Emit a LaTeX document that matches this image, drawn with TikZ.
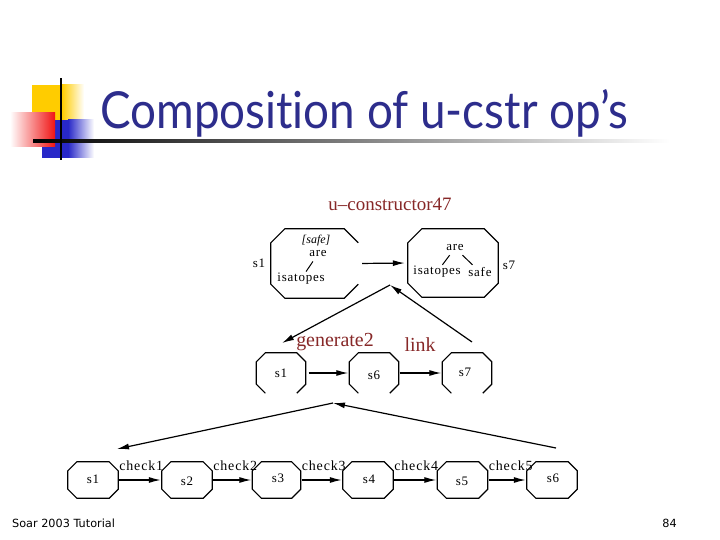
\documentclass[tikz,border=0pt]{standalone}
\usepackage{fontspec}
\setmainfont{Liberation Serif}
\newfontfamily\dfont[LetterSpace=6]{Liberation Serif}
\newfontfamily\titlefont[Ligatures={NoCommon,NoRequired,NoContextual}]{Lato}
\newfontfamily\footfont{DejaVu Sans}
\usetikzlibrary{arrows.meta,calc}
\definecolor{titleblue}{RGB}{45,45,140}
\definecolor{opred}{RGB}{135,40,40}
\definecolor{logoyellow}{RGB}{255,204,0}
\definecolor{logoblue}{RGB}{40,40,200}
\definecolor{logored}{RGB}{240,20,20}

% octagon outlines drawn from the anchors of a named box
\newcommand\octfull[2]{\draw[octline] ($(#1.north west)+(#2,0)$) -- ($(#1.north east)+(-#2,0)$) -- ($(#1.north east)+(0,#2)$) -- ($(#1.south east)+(0,-#2)$) -- ($(#1.south east)+(-#2,0)$) -- ($(#1.south west)+(#2,0)$) -- ($(#1.south west)+(0,-#2)$) -- ($(#1.north west)+(0,#2)$) -- cycle;}
\newcommand\octopenbottom[2]{\draw[octline] ($(#1.south east)+(-#2,0)$) -- ($(#1.south east)+(0,-#2)$) -- ($(#1.north east)+(0,#2)$) -- ($(#1.north east)+(-#2,0)$) -- ($(#1.north west)+(#2,0)$) -- ($(#1.north west)+(0,#2)$) -- ($(#1.south west)+(0,-#2)$) -- ($(#1.south west)+(#2,0)$);}
\newcommand\octopenright[2]{\draw[octline] ($(#1.south east)+(0,-#2)$) -- ($(#1.south east)+(-#2,0)$) -- ($(#1.south west)+(#2,0)$) -- ($(#1.south west)+(0,-#2)$) -- ($(#1.north west)+(0,#2)$) -- ($(#1.north west)+(#2,0)$) -- ($(#1.north east)+(-#2,0)$) -- ($(#1.north east)+(0,#2)$);}

\begin{document}
\begin{tikzpicture}[x=1bp,y=-1bp,
  octbox/.style={draw=none,inner sep=0pt,minimum width=#1},
  octline/.style={line width=1.2bp,black},
  arr/.style={line width=1.2bp,-{Latex[length=12bp,width=6bp]}},
  lbl/.style={font=\dfont\fontsize{13}{13}\selectfont,inner sep=0pt},
  chk/.style={font=\dfont\fontsize{14}{14}\selectfont,inner sep=0pt,anchor=base west},
  optitle/.style={font=\fontsize{20}{20}\selectfont,text=opred,inner sep=0pt},
  foot/.style={font=\footfont\fontsize{11.3}{12}\selectfont,inner sep=0pt}]
\useasboundingbox[fill=white] (0,0) rectangle (720,540);

% ---- logo ----
\fill[logoyellow] (32,85) rectangle (62,120);
\shade[left color=logoyellow,right color=white] (62,85) rectangle (84,120);
\fill[logoblue] (42,120) rectangle (68,158);
\shade[left color=logoblue,right color=white] (68,120) rectangle (94,158);
\shade[left color=white,right color=logored] (10,113) rectangle (55,147);
\shade[left color=black,right color=white] (33,140) rectangle (670,142.5);
\fill[black] (59.8,78) rectangle (62.3,160);

% ---- title ----
\node[anchor=base west,inner sep=0pt,text=titleblue] (title) at (100,129)
  {\resizebox{528bp}{39bp}{\titlefont Composition of u-cstr op’s}};

% ---- top level ----
\node[optitle,font=\fontsize{19}{19}\selectfont] (uc) at (390,204) {u–constructor47};
\node[octbox=87bp,minimum height=69bp] (T1) at (314.5,263.5) {};
\node[octbox=90bp,minimum height=68bp] (T2) at (453,263) {};
\octopenright{T1}{14}
\octfull{T2}{14}
\node[lbl] (s1top) at (259,263) {s1};
\node[lbl] (s7top) at (509,265) {s7};
\node[lbl,font=\itshape\fontsize{12}{12}\selectfont] (T1safe) at (316,241) {[safe]};
\node[lbl] (T1are) at (318,254) {are};
\node[lbl] (T1isa) at (301,279) {isatopes};
\draw[line width=1bp] ($(T1are)!0.3!(T1isa)$) -- ($(T1isa)!0.3!(T1are)$);
\node[lbl] (T2are) at (455,248) {are};
\node[lbl] (T2isa) at (437,272) {isatopes};
\node[lbl] (T2safe) at (480,272) {safe};
\draw[line width=1bp] ($(T2are)!0.3!(T2isa)$) -- ($(T2isa)!0.3!(T2are)$);
\draw[line width=1bp] ($(T2are)!0.3!(T2safe)$) -- ($(T2safe)!0.3!(T2are)$);
\draw[arr,shorten <=4bp,shorten >=3bp] (T1.east) -- (T2.west);

\coordinate (apx1) at (390,285);
\coordinate (gend) at (282,343);
\coordinate (lstart) at (472,342);
\draw[arr] (apx1) -- (gend);
\draw[arr] (lstart) -- (apx1);
\node[optitle] (gen) at (335,342) {generate2};
\node[optitle] (link) at (420,345) {link};

% ---- middle level ----
\node[octbox=49bp,minimum height=40bp] (M1) at (281,373) {};
\node[octbox=49bp,minimum height=40bp] (M2) at (374,373) {};
\node[octbox=49bp,minimum height=40bp] (M3) at (467,373) {};
\octopenbottom{M1}{9}
\octopenbottom{M2}{9}
\octopenbottom{M3}{9}
\node[lbl] at (M1) {s1};
\node[lbl] at (374,375) {s6};
\node[lbl] at (465,372) {s7};
\draw[arr,shorten <=3bp,shorten >=1bp] (M1.east) -- (M2.west);
\draw[arr,shorten <=1bp,shorten >=1bp] (M2.east) -- (M3.west);

\coordinate (apx2) at (333,403);
\coordinate (lend) at (117,449);
\coordinate (rstart) at (556,448);
\draw[arr] (apx2) -- (lend);
\draw[arr] (rstart) -- (apx2);

% ---- bottom level ----
\node[octbox=50bp,minimum height=36bp] (B1) at (93,480) {};
\node[octbox=50bp,minimum height=36bp] (B2) at (187,480) {};
\node[octbox=48bp,minimum height=36bp] (B3) at (276.5,480) {};
\node[octbox=50bp,minimum height=36bp] (B4) at (368,480) {};
\node[octbox=50bp,minimum height=36bp] (B5) at (462.5,480) {};
\node[octbox=50bp,minimum height=36bp] (B6) at (552,480) {};
\foreach \n in {B1,B2,B3,B4,B5,B6} {\octfull{\n}{9}}
\node[lbl] at (93,479) {s1};
\node[lbl] at (187,481) {s2};
\node[lbl] at (278,478) {s3};
\node[lbl] at (369,479) {s4};
\node[lbl] at (462,481) {s5};
\node[lbl] at (553,478) {s6};
\draw[arr,shorten <=1bp,shorten >=1bp] (B1.east) -- (B2.west);
\draw[arr,shorten <=1bp,shorten >=1bp] (B2.east) -- (B3.west);
\draw[arr,shorten <=1bp,shorten >=1bp] (B3.east) -- (B4.west);
\draw[arr,shorten <=1bp,shorten >=1bp] (B4.east) -- (B5.west);
\draw[arr,shorten <=1bp,shorten >=1bp] (B5.east) -- (B6.west);
\node[chk] at ($(B1.east)+(1,-10)$) {check1};
\node[chk] at ($(B2.east)+(1,-10)$) {check2};
\node[chk] at ($(B3.east)+(1,-10)$) {check3};
\node[chk] at ($(B4.east)+(1,-10)$) {check4};
\node[chk] at ($(B5.east)+(1,-10)$) {check5};

% ---- footer ----
\node[foot,anchor=west] (footl) at (12,523) {Soar 2003 Tutorial};
\node[foot,anchor=east] (footr) at (677,523) {84};
\end{tikzpicture}
\end{document}
